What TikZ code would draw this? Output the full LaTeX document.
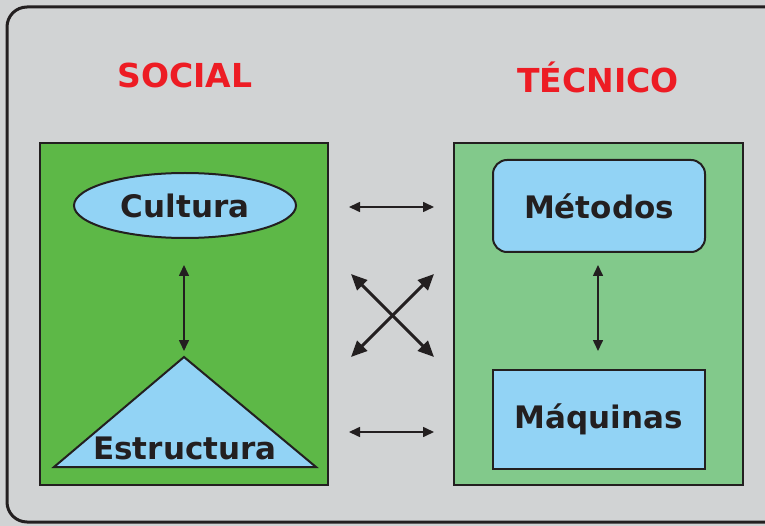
\documentclass[tikz,border=0pt]{standalone}
\usepackage{fontspec}
\setmainfont{DejaVu Sans}
\usetikzlibrary{arrows.meta,shapes.geometric}
\definecolor{bggray}{HTML}{D1D3D4}
\definecolor{lgreen}{HTML}{5DB847}
\definecolor{rgreen}{HTML}{82C98B}
\definecolor{lblue}{HTML}{92D3F5}
\definecolor{dark}{HTML}{231F20}
\definecolor{tred}{HTML}{ED1C24}
\tikzset{
  panel/.style={draw=dark,line width=2pt},
  item/.style={draw=dark,line width=2pt,fill=lblue,font=\bfseries\fontsize{31}{31}\selectfont,text=dark},
  title/.style={font=\bfseries\fontsize{33}{33}\selectfont,text=tred},
  link/.style={draw=dark,line width=1.6pt,{Triangle[length=11pt,width=10pt]}-{Triangle[length=11pt,width=10pt]}},
  biglink/.style={draw=dark,line width=3pt,{Triangle[length=16pt,width=14pt]}-{Triangle[length=16pt,width=14pt]}}
}
\begin{document}
\begin{tikzpicture}[x=1pt,y=-1pt]
\useasboundingbox (0,0) rectangle (765,526);
\fill[bggray] (0,0) rectangle (765,526);
\draw[draw=dark,line width=3pt,fill=bggray,rounded corners=20pt] (7,7) rectangle (800,522);
% panels
\node[panel,fill=lgreen,minimum width=288pt,minimum height=342pt,inner sep=0pt] (social) at (184,314) {};
\node[panel,fill=rgreen,minimum width=289pt,minimum height=342pt,inner sep=0pt] (tecnico) at (598.5,314) {};
% titles
\node[title] (tsocial) at (185,75) {SOCIAL};
\node[title] (ttecnico) at (598,77) {TÉCNICO};
% left items
\node[item,ellipse,minimum width=222pt,minimum height=65pt,inner sep=0pt] (cultura) at (185,205.5) {Cultura};
\coordinate (apex) at (184,357);
\coordinate (bl) at (54,467);
\coordinate (br) at (316,467);
\draw[draw=dark,line width=2pt,fill=lblue,line join=miter] (apex) -- (br) -- (bl) -- cycle;
\node[font=\bfseries\fontsize{31}{31}\selectfont,text=dark] (estructura) at (185,448) {Estructura};
% right items
\node[item,rectangle,rounded corners=14pt,minimum width=212pt,minimum height=92pt,inner sep=0pt] (metodos) at (599,206) {Métodos};
\node[item,rectangle,minimum width=212pt,minimum height=99pt,inner sep=0pt] (maquinas) at (599,419.5) {Máquinas};
% arrows
\coordinate (v1a) at (184,265);
\coordinate (v1b) at (184,351);
\draw[link] (v1a) -- (v1b);
\coordinate (v2a) at (598,265);
\coordinate (v2b) at (598,351);
\draw[link] (v2a) -- (v2b);
\coordinate (h1a) at (349,207);
\coordinate (h1b) at (434,207);
\draw[link] (h1a) -- (h1b);
\coordinate (h2a) at (349,432);
\coordinate (h2b) at (434,432);
\draw[link] (h2a) -- (h2b);
\coordinate (c1a) at (351,274);
\coordinate (c1b) at (434,357);
\coordinate (c2a) at (351,357);
\coordinate (c2b) at (434,274);
\draw[biglink] (c1a) -- (c1b);
\draw[biglink] (c2a) -- (c2b);
\end{tikzpicture}
\end{document}
